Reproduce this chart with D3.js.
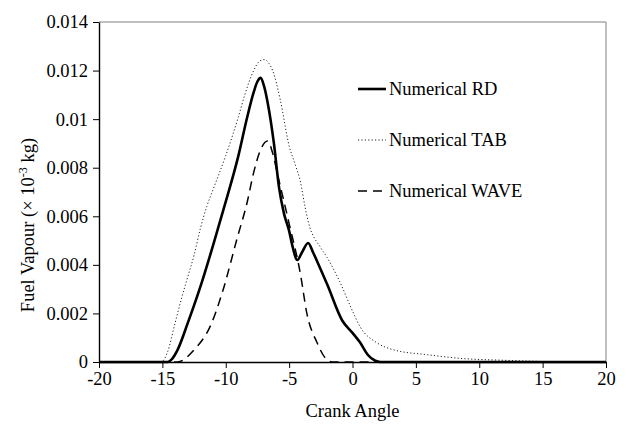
<!DOCTYPE html>
<html>
<head>
<meta charset="utf-8">
<script src="https://cdn.jsdelivr.net/npm/d3@7"></script>
<style>
  body { margin: 0; background: #fff; }
  svg text { font-family: "Liberation Serif", "Times New Roman", serif; fill: #000; }
</style>
</head>
<body>
<svg id="chart" width="630" height="430"></svg>
<script>
// crank angle / fuel vapour
let rdX = [-20, -14.6, -14.2, -13.8, -13.0, -12.0, -11.0, -10.0, -9.0, -8.3, -7.8, -7.5, -7.25, -7.0, -6.7, -6.2, -5.8, -5.4, -5.0, -4.75, -4.35, -4.0, -3.5, -3.1, -2.5, -2.0, -0.8, 0, 0.6, 1.2, 1.8, 2.2, 20]
let rdY = [0, 0, 0.00015, 0.0005, 0.0016, 0.0031, 0.0048, 0.0066, 0.0085, 0.0101, 0.0111, 0.01155, 0.0117, 0.0114, 0.0107, 0.0090, 0.0072, 0.0061, 0.0054, 0.0048, 0.0042, 0.0045, 0.0049, 0.0045, 0.0038, 0.0032, 0.0017, 0.0012, 0.0008, 0.0003, 0.00005, 0, 0]

let tabX = [-20, -15.1, -14.6, -14.0, -13.5, -13.0, -12.5, -12.0, -11.5, -11.0, -10.0, -9.0, -8.5, -7.8, -7.3, -6.95, -6.6, -6.3, -5.7, -5.0, -4.5, -4.1, -3.75, -3.5, -2.5, -2.0, -1.0, 0, 0.6, 1.9, 3.25, 5.9, 8.5, 12, 15, 16, 20]
let tabY = [0, 0, 0.0004, 0.0016, 0.0026, 0.0035, 0.0044, 0.0055, 0.0064, 0.0071, 0.0085, 0.0101, 0.0110, 0.0120, 0.0124, 0.01245, 0.0123, 0.0120, 0.0108, 0.0089, 0.0081, 0.0074, 0.0064, 0.0058, 0.0047, 0.0043, 0.0033, 0.0021, 0.00145, 0.0008, 0.0005, 0.0003, 0.00015, 0.00007, 0.00002, 0, 0]

let waveX = [-20, -13.8, -12.5, -11.2, -10.25, -9.1, -8.3, -7.8, -7.2, -6.7, -6.3, -5.9, -5.0, -4.1, -3.6, -2.8, -2.2, -1.6, 20]
let waveY = [0, 0, 0.0005, 0.0015, 0.0029, 0.0051, 0.0066, 0.0078, 0.0088, 0.0091, 0.0086, 0.0077, 0.0057, 0.0036, 0.0020, 0.0008, 0.0002, 0, 0]

let seriesNames = ['Numerical RD', 'Numerical TAB', 'Numerical WAVE']
let xTicks = [-20, -15, -10, -5, 0, 5, 10, 15, 20]
let xTickLabels = ['-20', '-15', '-10', '-5', '0', '5', '10', '15', '20']
let yTicks = [0, 0.002, 0.004, 0.006, 0.008, 0.01, 0.012, 0.014]
let yTickLabels = ['0', '0.002', '0.004', '0.006', '0.008', '0.01', '0.012', '0.014']

let serif = '"Liberation Serif", "Times New Roman", serif'
let fontSize = 18.5
let svg = d3.select('#chart').attr('font-family', serif)
let plotLeft = 99, plotRight = 606, plotTop = 22, plotBottom = 362

let x = d3.scaleLinear().domain([-20, 20]).range([plotLeft, plotRight])
let y = d3.scaleLinear().domain([0, 0.014]).range([plotBottom, plotTop])

// frame on top and right
svg.append('path')
  .attr('d', `M${plotLeft},${plotTop}H${plotRight}V${plotBottom}`)
  .attr('fill', 'none')
  .attr('stroke', '#808080')
  .attr('stroke-width', 1)

let series = [
  { xs: rdX, ys: rdY, width: 2.6, dash: null, color: '#000' },
  { xs: tabX, ys: tabY, width: 1, dash: '1.2,2.2', color: '#222' },
  { xs: waveX, ys: waveY, width: 1.5, dash: '9,6', color: '#000' }
]

let line = d3.line()
  .x(d => x(d[0]))
  .y(d => y(d[1]))
  .curve(d3.curveMonotoneX)

// draw order: tab, wave, rd on top
;[1, 2, 0].forEach(i => {
  let s = series[i]
  svg.append('path')
    .datum(s.xs.map((v, j) => [v, s.ys[j]]))
    .attr('d', line)
    .attr('fill', 'none')
    .attr('stroke', s.color)
    .attr('stroke-width', s.width)
    .attr('stroke-dasharray', s.dash)
})

// axes
let xAxis = svg.append('g')
  .attr('transform', `translate(0,${plotBottom})`)
  .call(d3.axisBottom(x).tickValues(xTicks).tickSize(6).tickPadding(4).tickSizeOuter(0)
    .tickFormat((d, i) => xTickLabels[i]))
let yAxis = svg.append('g')
  .attr('transform', `translate(${plotLeft},0)`)
  .call(d3.axisLeft(y).tickValues(yTicks).tickSize(6).tickPadding(5).tickSizeOuter(0)
    .tickFormat((d, i) => yTickLabels[i]))

;[xAxis, yAxis].forEach(a => {
  a.attr('font-family', serif)
  a.select('.domain').attr('stroke', '#000').attr('stroke-width', 1.4)
  a.selectAll('.tick line').attr('stroke', '#000').attr('stroke-width', 1)
  a.selectAll('.tick text')
    .attr('font-size', fontSize)
    .attr('fill', '#000')
})

// axis titles
svg.append('text')
  .attr('x', (plotLeft + plotRight) / 2)
  .attr('y', 417)
  .attr('text-anchor', 'middle')
  .attr('font-size', fontSize)
  .text('Crank Angle')

let yTitle = svg.append('text')
  .attr('transform', 'translate(34,225) rotate(-90)')
  .attr('text-anchor', 'middle')
  .attr('font-size', fontSize)
yTitle.append('tspan').text('Fuel Vapour (\u00d7 10')
yTitle.append('tspan').attr('dy', -7).attr('font-size', 12).text('-3')
yTitle.append('tspan').attr('dy', 7).text(' kg)')

// legend
let legendY = [89, 140, 191]
seriesNames.forEach((name, i) => {
  let s = series[i]
  let g = svg.append('g').attr('transform', `translate(358,${legendY[i]})`)
  g.append('line')
    .attr('x1', 0).attr('x2', 28)
    .attr('stroke', s.color)
    .attr('stroke-width', s.width)
    .attr('stroke-dasharray', s.dash)
  g.append('text')
    .attr('x', 31)
    .attr('y', 6)
    .attr('font-size', fontSize)
    .text(name)
})
</script>
</body>
</html>
